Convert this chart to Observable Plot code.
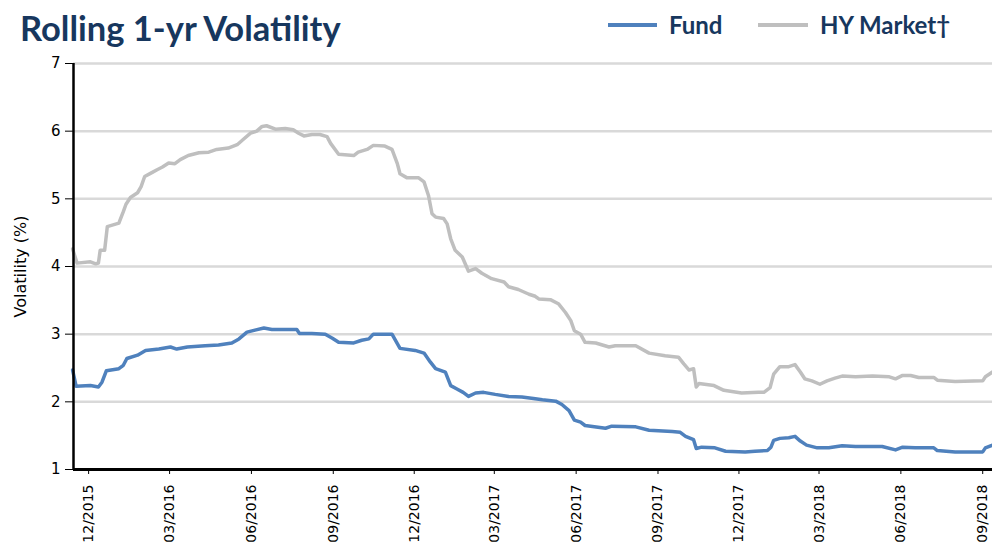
<!DOCTYPE html>
<html><head><meta charset="utf-8">
<script src="https://cdn.jsdelivr.net/npm/d3@7"></script>
<script src="https://cdn.jsdelivr.net/npm/@observablehq/plot@0.6"></script>
<style>
body{margin:0;background:#fff;width:992px;height:544px;overflow:hidden;font-family:"DejaVu Sans",sans-serif;}
#header{position:relative;height:50px;}
#title{position:absolute;left:20px;top:7px;font-family:Lato,sans-serif;font-weight:700;font-size:34.5px;color:#17375e;white-space:nowrap;}
.leg{position:absolute;top:10px;font-family:Lato,sans-serif;font-weight:700;font-size:24px;color:#17375e;white-space:nowrap;}
.sw{position:absolute;top:23px;height:4px;}
#chart svg{display:block;}
</style></head>
<body>
<div id="header">
 <div id="title">Rolling 1-yr Volatility</div>
 <div class="sw" style="left:608px;width:49px;background:#4f81bd"></div>
 <div class="leg" style="left:669px">Fund</div>
 <div class="sw" style="left:758px;width:50px;background:#bfbfbf"></div>
 <div class="leg" style="left:820px">HY Market†</div>
</div>
<div id="chart"></div>
<script>
const yTicks = [1, 2, 3, 4, 5, 6, 7];
const xTickDates = ["2015-12-01","2016-03-01","2016-06-01","2016-09-01","2016-12-01","2017-03-01","2017-06-01","2017-09-01","2017-12-01","2018-03-01","2018-06-01","2018-09-01"];
const xDomain = ["2015-11-14", "2018-09-12"];

const hyDates = ["2015-11-13","2015-11-18","2015-12-03","2015-12-09","2015-12-12","2015-12-14","2015-12-19","2015-12-22","2016-01-04","2016-01-09","2016-01-12","2016-01-17","2016-01-25","2016-01-29","2016-02-02","2016-02-09","2016-02-16","2016-02-22","2016-02-29","2016-03-07","2016-03-13","2016-03-22","2016-04-03","2016-04-14","2016-04-23","2016-05-06","2016-05-16","2016-05-23","2016-05-31","2016-06-07","2016-06-13","2016-06-18","2016-06-28","2016-07-09","2016-07-18","2016-07-24","2016-07-30","2016-08-08","2016-08-17","2016-08-25","2016-08-29","2016-09-07","2016-09-24","2016-09-29","2016-10-09","2016-10-16","2016-10-29","2016-11-06","2016-11-12","2016-11-15","2016-11-23","2016-12-06","2016-12-12","2016-12-17","2016-12-21","2016-12-25","2017-01-03","2017-01-07","2017-01-11","2017-01-16","2017-01-24","2017-01-31","2017-02-08","2017-02-15","2017-02-26","2017-03-12","2017-03-17","2017-03-28","2017-04-09","2017-04-16","2017-04-20","2017-05-03","2017-05-12","2017-05-20","2017-05-26","2017-05-30","2017-06-06","2017-06-11","2017-06-23","2017-07-08","2017-07-15","2017-08-07","2017-08-22","2017-09-09","2017-09-24","2017-09-30","2017-10-06","2017-10-11","2017-10-14","2017-10-17","2017-11-03","2017-11-14","2017-12-04","2017-12-23","2017-12-29","2018-01-05","2018-01-09","2018-01-16","2018-01-26","2018-02-02","2018-02-08","2018-02-13","2018-02-21","2018-03-02","2018-03-10","2018-03-19","2018-03-27","2018-04-11","2018-04-30","2018-05-19","2018-05-26","2018-06-03","2018-06-12","2018-06-21","2018-07-08","2018-07-12","2018-08-01","2018-09-01","2018-09-04","2018-09-12"];
const hyValues = [4.26,4.05,4.07,4.04,4.05,4.24,4.24,4.59,4.64,4.81,4.92,5.02,5.09,5.18,5.33,5.38,5.43,5.47,5.53,5.52,5.58,5.64,5.68,5.69,5.73,5.75,5.80,5.88,5.97,6.00,6.07,6.08,6.03,6.04,6.02,5.97,5.93,5.95,5.95,5.92,5.82,5.66,5.64,5.69,5.73,5.79,5.78,5.73,5.52,5.37,5.31,5.31,5.25,5.05,4.78,4.73,4.71,4.63,4.41,4.24,4.14,3.93,3.97,3.90,3.82,3.77,3.70,3.66,3.59,3.56,3.52,3.51,3.45,3.32,3.20,3.05,3.00,2.88,2.87,2.81,2.83,2.83,2.72,2.68,2.66,2.56,2.47,2.49,2.22,2.27,2.24,2.17,2.13,2.14,2.14,2.21,2.41,2.52,2.52,2.55,2.44,2.34,2.31,2.26,2.31,2.35,2.38,2.37,2.38,2.37,2.34,2.39,2.39,2.36,2.36,2.32,2.30,2.31,2.37,2.44];

const fundDates = ["2015-11-13","2015-11-17","2015-12-03","2015-12-12","2015-12-16","2015-12-21","2016-01-04","2016-01-09","2016-01-13","2016-01-25","2016-02-03","2016-02-18","2016-03-02","2016-03-09","2016-03-21","2016-04-10","2016-04-25","2016-05-10","2016-05-18","2016-05-27","2016-06-05","2016-06-15","2016-06-24","2016-07-09","2016-07-22","2016-07-25","2016-08-08","2016-08-23","2016-08-31","2016-09-07","2016-09-24","2016-10-03","2016-10-11","2016-10-16","2016-11-06","2016-11-12","2016-11-15","2016-12-02","2016-12-12","2016-12-19","2016-12-25","2017-01-05","2017-01-11","2017-01-18","2017-01-25","2017-01-31","2017-02-08","2017-02-17","2017-03-02","2017-03-17","2017-04-01","2017-04-14","2017-04-24","2017-05-09","2017-05-16","2017-05-24","2017-05-30","2017-06-06","2017-06-11","2017-07-04","2017-07-11","2017-08-07","2017-08-22","2017-09-17","2017-09-26","2017-10-02","2017-10-11","2017-10-14","2017-10-20","2017-11-04","2017-11-16","2017-12-08","2017-12-19","2018-01-02","2018-01-06","2018-01-09","2018-01-16","2018-01-26","2018-02-02","2018-02-08","2018-02-15","2018-02-27","2018-03-12","2018-03-27","2018-04-11","2018-05-11","2018-05-26","2018-06-03","2018-06-17","2018-07-08","2018-07-12","2018-08-01","2018-09-01","2018-09-04","2018-09-12"];
const fundValues = [2.47,2.23,2.24,2.22,2.29,2.46,2.49,2.54,2.64,2.69,2.76,2.78,2.81,2.78,2.81,2.83,2.84,2.87,2.93,3.03,3.06,3.09,3.07,3.07,3.07,3.01,3.01,3.00,2.94,2.88,2.87,2.91,2.93,3.00,3.00,2.86,2.79,2.76,2.72,2.59,2.49,2.44,2.24,2.19,2.14,2.08,2.13,2.14,2.11,2.08,2.07,2.05,2.03,2.01,1.96,1.87,1.73,1.70,1.65,1.61,1.64,1.63,1.58,1.56,1.55,1.49,1.44,1.31,1.33,1.32,1.27,1.26,1.27,1.28,1.33,1.43,1.46,1.47,1.49,1.42,1.36,1.32,1.32,1.35,1.34,1.34,1.29,1.33,1.32,1.32,1.28,1.26,1.26,1.32,1.36];

const parse = d3.utcParse("%Y-%m-%d");
const hy = hyDates.map((d, i) => ({date: parse(d), value: hyValues[i]}));
const fund = fundDates.map((d, i) => ({date: parse(d), value: fundValues[i]}));
const domain = xDomain.map(parse);

const chart = Plot.plot({
  width: 992, height: 494,
  marginLeft: 73, marginRight: 0, marginTop: 13, marginBottom: 75,
  style: {fontFamily: "DejaVu Sans, sans-serif", fontSize: "15px", color: "#000", background: "#fff", overflow: "visible"},
  x: {type: "utc", domain},
  y: {domain: [1, 7]},
  marks: [
    Plot.ruleY(yTicks.filter(v => v > 1), {stroke: "#d9d9d9", strokeWidth: 2.5}),
    Plot.line(hy, {x: "date", y: "value", stroke: "#bfbfbf", strokeWidth: 3.5}),
    Plot.line(fund, {x: "date", y: "value", stroke: "#4f81bd", strokeWidth: 3.5}),
    Plot.ruleX([domain[0]], {stroke: "#000", strokeWidth: 2.5}),
    Plot.ruleY([1], {stroke: "#000", strokeWidth: 3}),
    Plot.axisY({ticks: yTicks, tickFormat: d3.format("d"), tickSize: 8, tickPadding: 5, label: null, fontSize: 15}),
    Plot.axisX({ticks: xTickDates.map(parse), tickFormat: d3.utcFormat("%m/%Y"), tickRotate: -90, tickSize: 5, tickPadding: 10, label: null, fontSize: 14}),
    Plot.text(["Volatility (%)"], {frameAnchor: "left", textAnchor: "middle", dx: -53, rotate: -90, fontSize: 16})
  ]
});
document.getElementById("chart").appendChild(chart);
</script>
</body></html>
